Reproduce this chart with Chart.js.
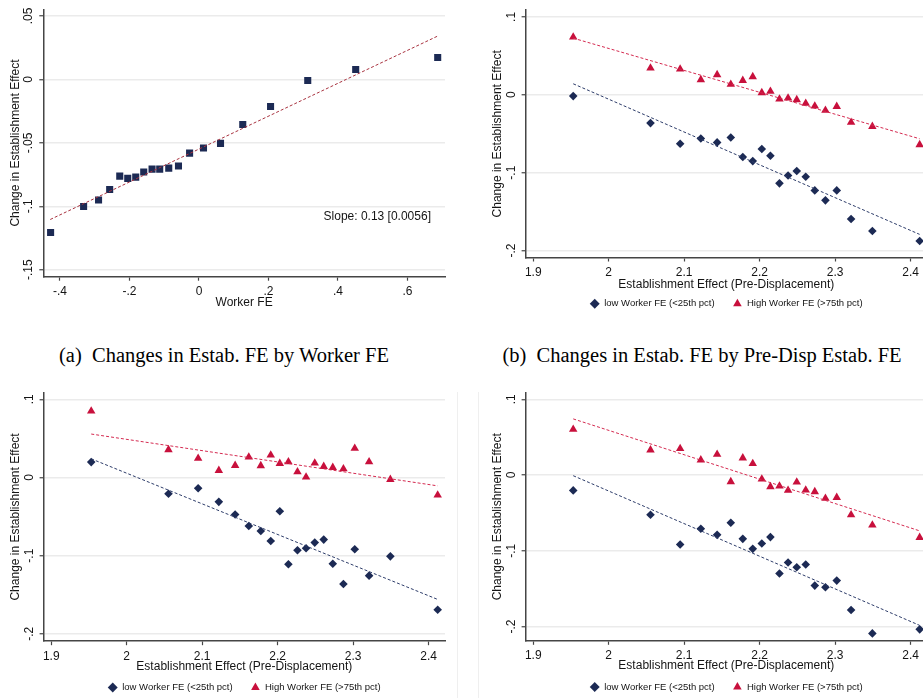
<!DOCTYPE html>
<html>
<head>
<meta charset="utf-8">
<script src="https://cdn.jsdelivr.net/npm/chart.js@4.4.0/dist/chart.umd.min.js"></script>
<style>
  html, body { margin: 0; padding: 0; background: #fff; width: 923px; height: 698px; overflow: hidden; position: relative; }
  canvas { position: absolute; }
  .cap { position: absolute; width: 600px; text-align: center; font-family: "Liberation Serif", "Times New Roman", serif;
         font-size: 20.5px; line-height: 1; white-space: pre; color: #000; }
  .sep { position: absolute; top: 392px; width: 1px; height: 306px; background: #efefef; }
</style>
</head>
<body>
<canvas id="pa" width="460" height="320" style="left:0;top:0"></canvas>
<canvas id="pb" width="460" height="330" style="left:482px;top:0"></canvas>
<canvas id="pc" width="460" height="330" style="left:0;top:380px"></canvas>
<canvas id="pd" width="460" height="330" style="left:482px;top:380px"></canvas>
<div class="cap" style="left:-76px;top:345px">(a)  Changes in Estab. FE by Worker FE</div>
<div class="cap" style="left:402px;top:345px">(b)  Changes in Estab. FE by Pre-Disp Estab. FE</div>
<div class="sep" style="left:457px"></div>
<div class="sep" style="left:478px"></div>
<script>
// ---- Panel (a): binned change in establishment effect by worker FE ----
const workerFE = [-0.427, -0.332, -0.289, -0.257, -0.228, -0.205, -0.182, -0.159, -0.135, -0.113,
                  -0.087, -0.059, -0.027, 0.013, 0.062, 0.126, 0.206, 0.313, 0.451, 0.687];
const changeByWorkerFE = [-0.1206, -0.1001, -0.0951, -0.0867, -0.0762, -0.0780, -0.0770, -0.0730, -0.0707, -0.0707,
                          -0.0699, -0.0683, -0.0581, -0.0541, -0.0504, -0.0355, -0.0213, -0.0008, 0.0079, 0.0173];
const fitA_x = [-0.428, 0.687];
const fitA_y = [-0.1104, 0.0342];
const slopeText = 'Slope: 0.13 [0.0056]';

// ---- Panels (b)-(d): binned by pre-displacement establishment effect ----
const estabEffect = [1.953, 2.0554, 2.0947, 2.1221, 2.1437, 2.1618, 2.1777, 2.1909, 2.2029, 2.2143,
                     2.2263, 2.2377, 2.2492, 2.2611, 2.2731, 2.2872, 2.3022, 2.3212, 2.3494, 2.4121];
const fitBins = [1.953, 2.412];

const lowB  = [-0.0017, -0.0364, -0.0629, -0.0561, -0.0612, -0.0548, -0.0800, -0.0852, -0.0697, -0.0783,
               -0.1138, -0.1036, -0.0980, -0.1053, -0.1228, -0.1356, -0.1228, -0.1596, -0.1750, -0.1878];
const highB = [0.0740, 0.0342, 0.0329, 0.0193, 0.0257, 0.0133, 0.0184, 0.0231, 0.0026, 0.0043,
               -0.0056, -0.0043, -0.0064, -0.0111, -0.0145, -0.0201, -0.0150, -0.0355, -0.0407, -0.0642];
const fitLowB  = [0.0141, -0.1793];
const fitHighB = [0.0727, -0.0565];

const lowC  = [0.0197, -0.0209, -0.0137, -0.0312, -0.0474, -0.0620, -0.0684, -0.0812, -0.0432, -0.1111,
               -0.0932, -0.0906, -0.0833, -0.0795, -0.1103, -0.1363, -0.0919, -0.1256, -0.1009, -0.1692];
const highC = [0.0850, 0.0355, 0.0244, 0.0090, 0.0154, 0.0261, 0.0150, 0.0286, 0.0179, 0.0201,
               0.0073, 0.0004, 0.0184, 0.0141, 0.0128, 0.0111, 0.0372, 0.0201, -0.0026, -0.0226];
const fitLowC  = [0.0239, -0.1560];
const fitHighC = [0.0556, -0.0107];

const lowD  = [-0.0203, -0.0525, -0.0918, -0.0710, -0.0790, -0.0631, -0.0843, -0.0975, -0.0904, -0.0820,
               -0.1301, -0.1156, -0.1217, -0.1182, -0.1460, -0.1482, -0.1394, -0.1782, -0.2091, -0.2038];
const highD = [0.0604, 0.0331, 0.0348, 0.0199, 0.0273, -0.0088, 0.0225, 0.0150, -0.0053, -0.0154,
               -0.0146, -0.0203, -0.0093, -0.0199, -0.0221, -0.0309, -0.0296, -0.0525, -0.0662, -0.0825];
const fitLowD  = [-0.0009, -0.1985];
const fitHighD = [0.0741, -0.0737];

// ---- Tick values and labels ----
const xTicksA = [-0.4, -0.2, 0, 0.2, 0.4, 0.6];
const xLabelsA = ['-.4', '-.2', '0', '.2', '.4', '.6'];
const yTicksA = [0.05, 0, -0.05, -0.1, -0.15];
const yLabelsA = ['.05', '0', '-.05', '-.1', '-.15'];
const xTicksE = [1.9, 2.0, 2.1, 2.2, 2.3, 2.4];
const xLabelsE = ['1.9', '2', '2.1', '2.2', '2.3', '2.4'];
const yTicksE = [0.1, 0, -0.1, -0.2];
const yLabelsE = ['.1', '0', '-.1', '-.2'];

const lowLabel = 'low Worker FE (<25th pct)';
const highLabel = 'High Worker FE (>75th pct)';
const yTitle = 'Change in Establishment Effect';

const NAVY = '#1c2a54';
const RED = '#c8103c';
const INK = '#141414';
const AXIS = '#454545';

Chart.defaults.font.family = '"Liberation Sans", Arial, Helvetica, sans-serif';
Chart.defaults.font.size = 12;
Chart.defaults.color = INK;

const pts = (xs, ys) => xs.map((v, i) => ({ x: v, y: ys[i] }));

// Text annotation placed in data coordinates
const noteText = {
  id: 'noteText',
  afterDatasetsDraw(chart, args, opts) {
    if (!opts || !opts.text) return;
    const { ctx, scales: { x, y } } = chart;
    ctx.save();
    ctx.font = '12px "Liberation Sans", Arial, sans-serif';
    ctx.fillStyle = INK;
    ctx.textAlign = 'right';
    ctx.textBaseline = 'middle';
    ctx.fillText(opts.text, x.getPixelForValue(opts.x), y.getPixelForValue(opts.y));
    ctx.restore();
  }
};

function makePanel(id, p) {
  const datasets = [];
  p.series.forEach(s => datasets.push({
    type: 'scatter', label: s.label, data: pts(s.x, s.y), order: 1,
    pointStyle: s.style, pointRadius: s.radius, pointHoverRadius: s.radius,
    pointBackgroundColor: s.color, backgroundColor: s.color, borderColor: s.color, pointBorderWidth: 0
  }));
  p.fits.forEach(f => datasets.push({
    type: 'line', label: 'fit', data: pts(f.x, f.y), order: 0,
    borderColor: f.color, borderWidth: 1, borderDash: [3, 2], pointRadius: 0, fill: false
  }));

  return new Chart(document.getElementById(id), {
    type: 'scatter',
    data: { datasets },
    plugins: [noteText],
    options: {
      responsive: false,
      animation: false,
      layout: { padding: p.pad },
      plugins: {
        tooltip: { enabled: false },
        noteText: p.note || {},
        legend: p.legend ? {
          display: true, position: 'bottom', fullSize: false, align: 'center',
          labels: {
            usePointStyle: true, boxHeight: 7, boxWidth: 10, padding: 18,
            font: { size: 9.5 }, color: INK,
            filter: (item, data) => data.datasets[item.datasetIndex].type === 'scatter'
          }
        } : { display: false }
      },
      scales: {
        x: {
          type: 'linear', min: p.xMin, max: p.xMax, bounds: 'data',
          afterBuildTicks: s => { s.ticks = p.xTicks.map(v => ({ value: v })); },
          afterFit: s => { s.height = p.xAxisH; },
          ticks: { autoSkip: false, minRotation: 0, maxRotation: 0, padding: 4, color: INK,
                   callback: (v, i) => p.xLabels[i] },
          grid: { drawOnChartArea: false, drawTicks: true, tickLength: 4, tickColor: AXIS, tickWidth: 1.2 },
          border: { display: true, color: AXIS, width: 1.5 },
          title: { display: true, text: p.xTitle, color: INK, font: { size: 12 },
                   padding: { top: 0, bottom: p.xTitlePad } }
        },
        y: {
          type: 'linear', min: p.yMin, max: p.yMax, bounds: 'data',
          afterBuildTicks: s => { s.ticks = p.yTicks.map(v => ({ value: v })); },
          afterFit: s => { s.width = p.yAxisW; },
          ticks: { autoSkip: false, minRotation: 90, maxRotation: 90, crossAlign: 'center',
                   padding: p.yTickPad, color: INK, callback: (v, i) => p.yLabels[i] },
          grid: { drawOnChartArea: true, color: '#ebebeb', lineWidth: 1.5,
                  drawTicks: true, tickLength: 4, tickColor: AXIS, tickWidth: 1.2 },
          border: { display: true, color: AXIS, width: 1.5 },
          title: { display: true, text: yTitle, color: INK, font: { size: 12 },
                   padding: { top: 8.5, bottom: 0 } }
        }
      }
    }
  });
}

// (a)
makePanel('pa', {
  series: [{ label: 'bins', x: workerFE, y: changeByWorkerFE, style: 'rect', radius: 5, color: NAVY }],
  fits: [{ x: fitA_x, y: fitA_y, color: '#a8323f' }],
  xMin: -0.448, xMax: 0.708, yMin: -0.1555, yMax: 0.0553,
  xTicks: xTicksA, xLabels: xLabelsA, yTicks: yTicksA, yLabels: yLabelsA,
  xTitle: 'Worker FE', xAxisH: 33.2, xTitlePad: 0, yAxisW: 43.3, yTickPad: 0,
  pad: { left: 0, top: 9.3, right: 15, bottom: 10.1 },
  legend: false,
  note: { text: slopeText, x: 0.6676, y: -0.108 }
});

const estabPanel = (id, low, high, fitLow, fitHigh, yMin, yMax, top, bottom, titlePad) => makePanel(id, {
  series: [
    { label: lowLabel, x: estabEffect, y: low, style: 'rectRot', radius: 4.3, color: NAVY },
    { label: highLabel, x: estabEffect, y: high, style: 'triangle', radius: 4.9, color: RED }
  ],
  fits: [
    { x: fitBins, y: fitLow, color: '#2e3d6a' },
    { x: fitBins, y: fitHigh, color: '#d42a50' }
  ],
  xMin: 1.8899, xMax: 2.4218, yMin, yMax,
  xTicks: xTicksE, xLabels: xLabelsE, yTicks: yTicksE, yLabels: yLabelsE,
  xTitle: 'Establishment Effect (Pre-Displacement)', xAxisH: 23.5, xTitlePad: titlePad,
  yAxisW: 43.6, yTickPad: 3,
  pad: { left: 0, top, right: 15, bottom },
  legend: true
});

estabPanel('pb', lowB, highB, fitLowB, fitHighB, -0.209, 0.1086, 9.3, 11.5, -10.7);
estabPanel('pc', lowC, highC, fitLowC, fitHighC, -0.2095, 0.1085, 12.7, 7.8, -9);
estabPanel('pd', lowD, highD, fitLowD, fitHighD, -0.2189, 0.1087, 12.7, 8.2, -9);
</script>
</body>
</html>
